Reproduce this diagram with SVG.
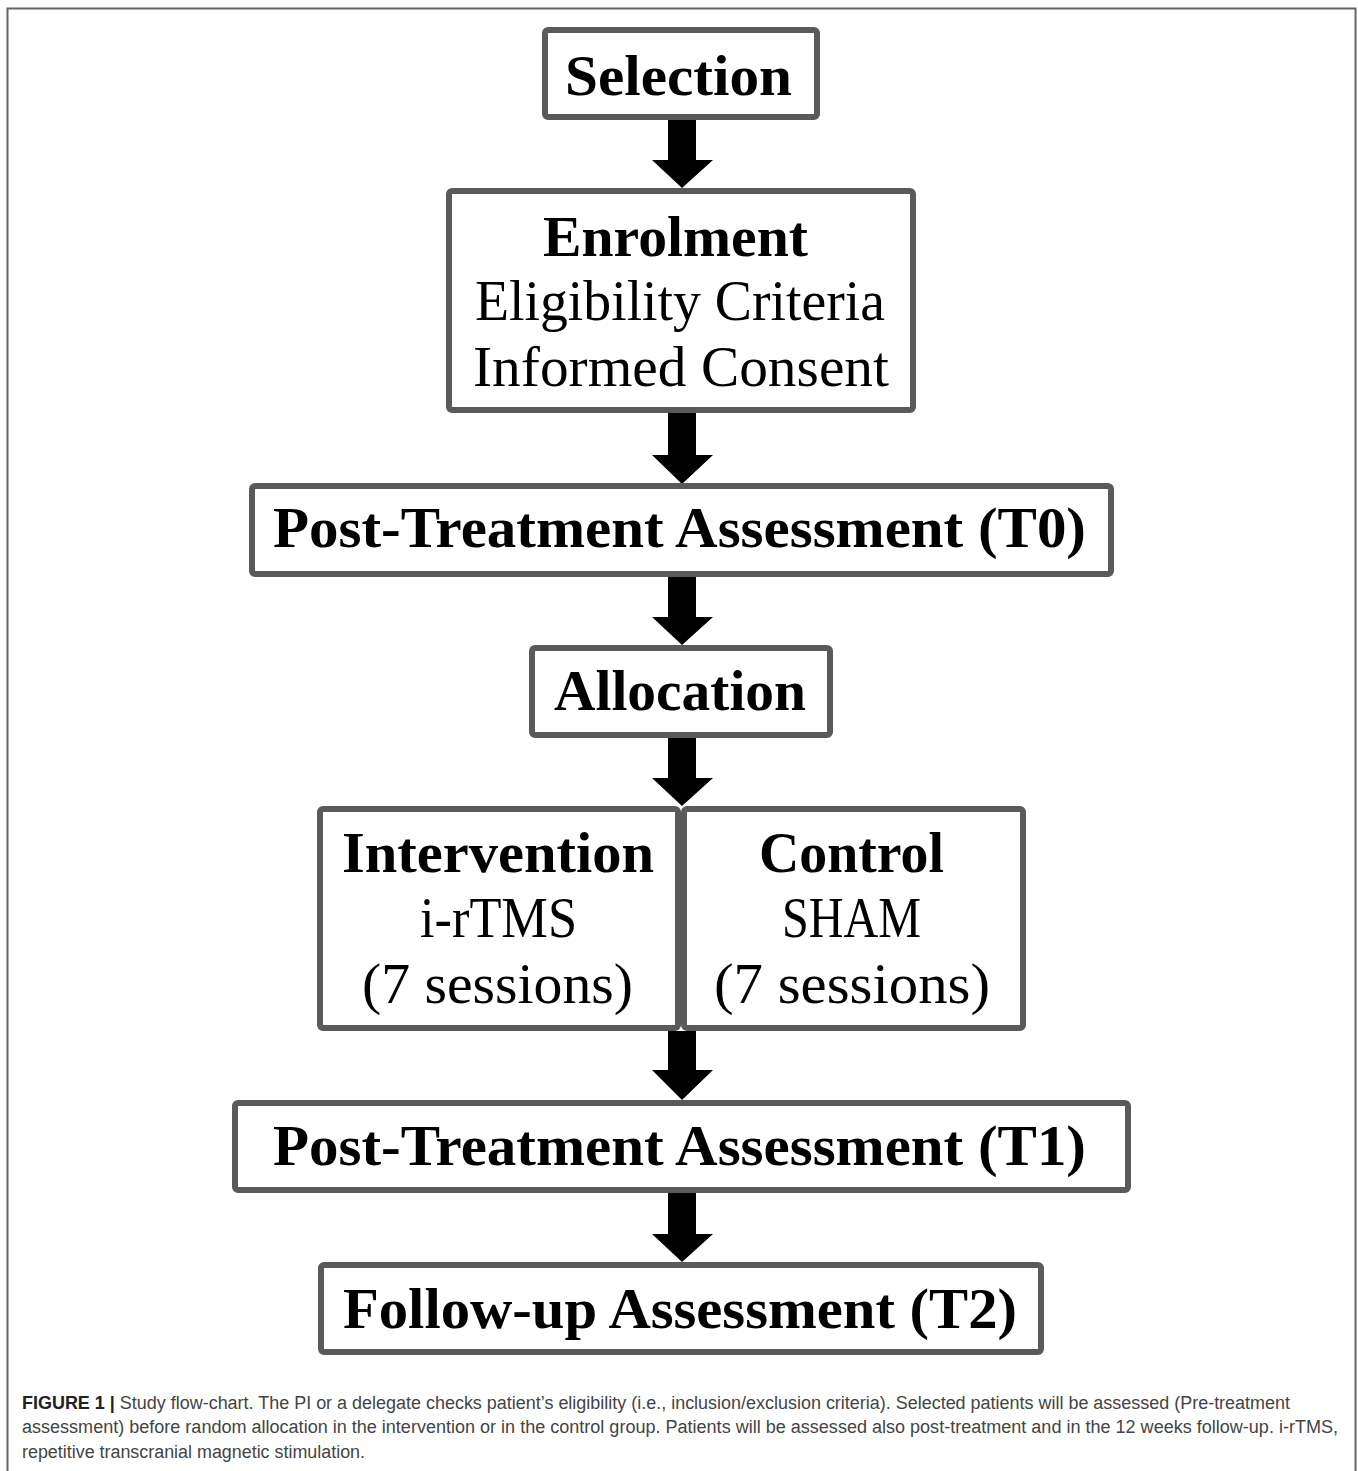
<svg xmlns="http://www.w3.org/2000/svg" width="1358" height="1471" viewBox="0 0 1358 1471">
<style>
.box{fill:#fff;stroke:#5a5a5a;stroke-width:6;}
.arr{fill:#000;}
.t{font-family:"Liberation Serif","Times New Roman",serif;font-size:56px;fill:#000;text-anchor:middle;}
.b{font-weight:bold;}
.cap{font-family:"Liberation Sans",Arial,sans-serif;font-size:18px;fill:#444;}
.capb{font-weight:bold;fill:#222;}
</style>
<rect width="1358" height="1471" fill="#fff"/>
<path d="M7.5,1471 V8.5 H1355.5 V1471" fill="none" stroke="#666" stroke-width="2"/>
<g id="connectors">
<polygon class="arr" points="668,119 696,119 696,160 713,160 682,188 652,160 668,160"/>
<polygon class="arr" points="668,413 696,413 696,455 713,455 682,484 652,455 668,455"/>
<polygon class="arr" points="668,577 696,577 696,617 713,617 682,645 652,617 668,617"/>
<polygon class="arr" points="668,738 696,738 696,778 713,778 682,806 652,778 668,778"/>
<polygon class="arr" points="668,1031 696,1031 696,1070 713,1070 682,1100 652,1070 668,1070"/>
<polygon class="arr" points="668,1193 696,1193 696,1234 713,1234 682,1262 652,1234 668,1234"/>
</g>
<g id="selection">
<rect class="box" x="545" y="30" width="272" height="87" rx="3"/>
<text class="t b" x="678.5" y="95" textLength="227" lengthAdjust="spacingAndGlyphs">Selection</text>
</g>
<g id="enrolment">
<rect class="box" x="449" y="191" width="464" height="219" rx="3"/>
<text class="t b" x="675.5" y="256" textLength="265" lengthAdjust="spacingAndGlyphs">Enrolment</text>
<text class="t" x="680" y="320" textLength="410" lengthAdjust="spacingAndGlyphs">Eligibility Criteria</text>
<text class="t" x="681" y="386" textLength="416" lengthAdjust="spacingAndGlyphs">Informed Consent</text>
</g>
<g id="t0">
<rect class="box" x="252" y="486" width="859" height="88" rx="3"/>
<text class="t b" x="679.5" y="547" textLength="813" lengthAdjust="spacingAndGlyphs">Post-Treatment Assessment (T0)</text>
</g>
<g id="allocation">
<rect class="box" x="532" y="648" width="298" height="87" rx="3"/>
<text class="t b" x="680" y="710" textLength="252" lengthAdjust="spacingAndGlyphs">Allocation</text>
</g>
<g id="intervention">
<rect class="box" x="320" y="809" width="358" height="219" rx="3"/>
<text class="t b" x="498" y="872" textLength="312" lengthAdjust="spacingAndGlyphs">Intervention</text>
<text class="t" x="498.5" y="937" textLength="157" lengthAdjust="spacingAndGlyphs">i-rTMS</text>
<text class="t" x="497.5" y="1003" textLength="271" lengthAdjust="spacingAndGlyphs">(7 sessions)</text>
</g>
<g id="control">
<rect class="box" x="684" y="809" width="339" height="219" rx="3"/>
<text class="t b" x="851.5" y="872" textLength="185" lengthAdjust="spacingAndGlyphs">Control</text>
<text class="t" x="851.5" y="937" textLength="139" lengthAdjust="spacingAndGlyphs">SHAM</text>
<text class="t" x="852" y="1003" textLength="276" lengthAdjust="spacingAndGlyphs">(7 sessions)</text>
</g>
<g id="t1">
<rect class="box" x="235" y="1103" width="893" height="87" rx="3"/>
<text class="t b" x="679.5" y="1165" textLength="813" lengthAdjust="spacingAndGlyphs">Post-Treatment Assessment (T1)</text>
</g>
<g id="t2">
<rect class="box" x="321" y="1265" width="720" height="87" rx="3"/>
<text class="t b" x="680" y="1328" textLength="674" lengthAdjust="spacingAndGlyphs">Follow-up Assessment (T2)</text>
</g>
<g id="caption">
<text class="cap" x="22" y="1409" textLength="1268" lengthAdjust="spacingAndGlyphs"><tspan class="capb">FIGURE 1 |</tspan> Study flow-chart. The PI or a delegate checks patient’s eligibility (i.e., inclusion/exclusion criteria). Selected patients will be assessed (Pre-treatment</text>
<text class="cap" x="22" y="1433" textLength="1316" lengthAdjust="spacingAndGlyphs">assessment) before random allocation in the intervention or in the control group. Patients will be assessed also post-treatment and in the 12 weeks follow-up. i-rTMS,</text>
<text class="cap" x="22" y="1458" textLength="343" lengthAdjust="spacingAndGlyphs">repetitive transcranial magnetic stimulation.</text>
</g>
</svg>
